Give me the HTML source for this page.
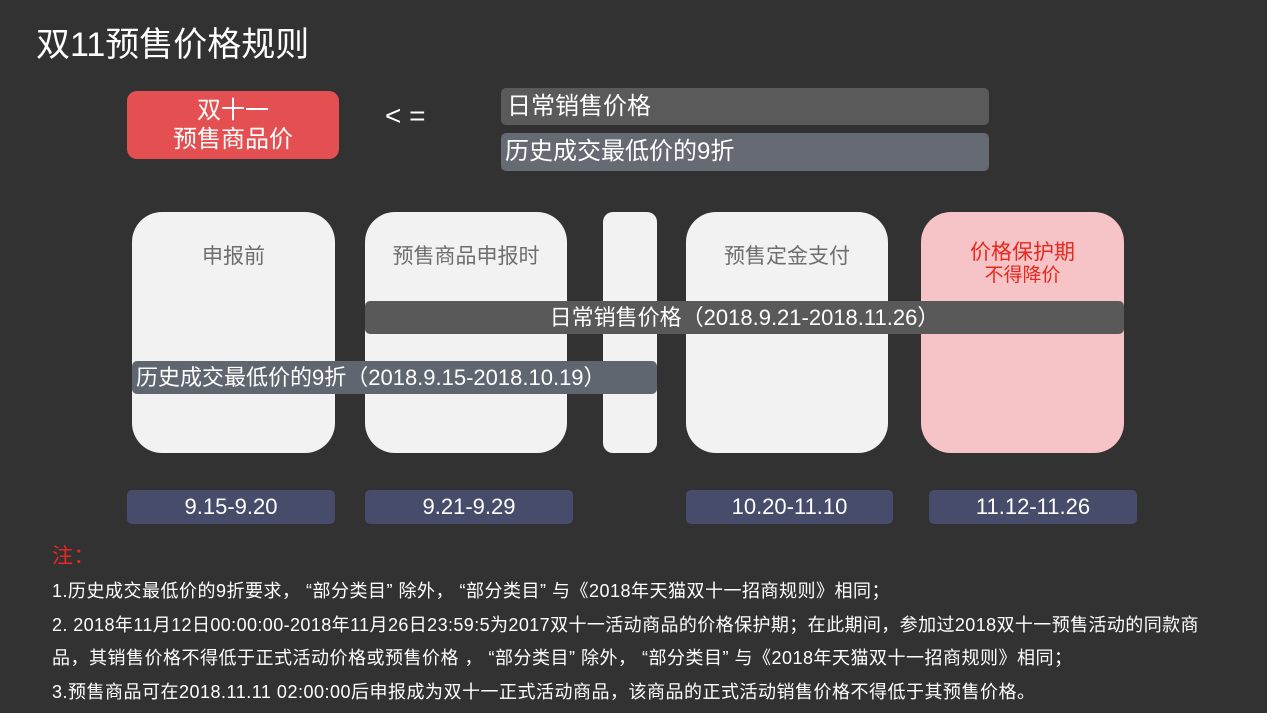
<!DOCTYPE html>
<html><head><meta charset="utf-8"><style>
*{margin:0;padding:0;box-sizing:border-box}
body{width:1267px;height:713px;background:#323232;position:relative;overflow:hidden;font-family:"Liberation Sans","Noto Sans CJK SC",sans-serif;color:#fff}
.a{position:absolute}
.col{position:absolute;top:212px;height:241px;background:#f2f2f2;border-radius:30px;text-align:center;color:#6e6e6e;font-size:21px;padding-top:28px}
.date{position:absolute;top:490px;height:34px;background:#464c6a;border-radius:5px;text-align:center;font-size:22px;line-height:34px;color:#fff}
.note{position:absolute;left:52px;font-size:18px;color:#fff;white-space:nowrap;letter-spacing:0.5px}
</style></head><body>
<div class="a" style="left:36px;top:17px;font-size:34px;">双11预售价格规则</div>
<div class="a" style="left:127px;top:91px;width:212px;height:68px;background:#e45052;border-radius:10px;text-align:center;font-size:24px;line-height:29px;padding-top:5px">双十一<br>预售商品价</div>
<div class="a" style="left:385px;top:100px;font-size:28px;">&lt; =</div>
<div class="a" style="left:501px;top:88px;width:488px;height:37px;background:#5a5a5a;border-radius:5px;font-size:24px;line-height:37px;padding-left:6px">日常销售价格</div>
<div class="a" style="left:501px;top:133px;width:488px;height:38px;background:#666b73;border-radius:5px;font-size:24px;line-height:38px;padding-left:4px">历史成交最低价的9折</div>

<div class="col" style="left:132px;width:203px">申报前</div>
<div class="col" style="left:365px;width:202px">预售商品申报时</div>
<div class="col" style="left:603px;width:54px;border-radius:10px"></div>
<div class="col" style="left:686px;width:202px">预售定金支付</div>
<div class="col" style="left:921px;width:203px;background:#f6c3c6;color:#e8281e;line-height:22px;padding-top:30px">价格保护期<br><span style="font-size:19px">不得降价</span></div>

<div class="a" style="left:365px;top:301px;width:759px;height:33px;background:#595959;border-radius:5px;text-align:center;font-size:22px;line-height:33px">日常销售价格（2018.9.21-2018.11.26）</div>
<div class="a" style="left:132px;top:361px;width:525px;height:33px;background:#5f6670;border-radius:5px;font-size:22px;line-height:33px;padding-left:4px">历史成交最低价的9折（2018.9.15-2018.10.19）</div>

<div class="date" style="left:127px;width:208px">9.15-9.20</div>
<div class="date" style="left:365px;width:208px">9.21-9.29</div>
<div class="date" style="left:686px;width:207px">10.20-11.10</div>
<div class="date" style="left:929px;width:208px">11.12-11.26</div>

<div class="note" style="top:540px;color:#e8281e;font-size:21px">注：</div>
<div class="note" style="top:577px">1.历史成交最低价的9折要求，&nbsp;“部分类目”&nbsp;除外，&nbsp;“部分类目”&nbsp;与《2018年天猫双十一招商规则》相同；</div>
<div class="note" style="top:611px;letter-spacing:0.4px">2. 2018年11月12日00:00:00-2018年11月26日23:59:5为2017双十一活动商品的价格保护期；在此期间，参加过2018双十一预售活动的同款商</div>
<div class="note" style="top:644px">品，其销售价格不得低于正式活动价格或预售价格 ，&nbsp;“部分类目”&nbsp;除外，&nbsp;“部分类目”&nbsp;与《2018年天猫双十一招商规则》相同；</div>
<div class="note" style="top:678px">3.预售商品可在2018.11.11 02:00:00后申报成为双十一正式活动商品，该商品的正式活动销售价格不得低于其预售价格。</div>
</body></html>
